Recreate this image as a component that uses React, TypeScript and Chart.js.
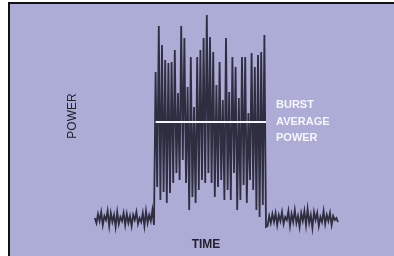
import React, { useEffect, useRef } from "react";
import { Chart, registerables } from "chart.js";

Chart.register(...registerables);

// Power samples (arbitrary units), one per time step
const NOISE_BEFORE = [38, 33, 42, 35, 44, 31, 40, 36, 45, 30, 43, 34, 41, 29, 44, 32, 39, 35, 43, 31, 42, 33, 40, 30, 41, 36, 44, 32, 38, 34, 43, 30, 45, 33, 41, 35, 46, 31];
const BURST_PEAKS = [184, 230, 211, 196, 193, 194, 206, 163, 230, 218, 169, 199, 149, 199, 206, 218, 241, 219, 204, 171, 194, 156, 218, 164, 199, 189, 158, 199, 199, 143, 203, 189, 201, 204, 221];
const BURST_TROUGHS = [69, 56, 64, 53, 63, 73, 83, 76, 96, 73, 46, 59, 53, 66, 76, 73, 83, 73, 59, 69, 76, 56, 66, 56, 83, 46, 56, 71, 53, 76, 66, 46, 39, 51];
const BURST_TAIL = [29];
const NOISE_AFTER = [30, 40, 33, 42, 34, 43, 31, 41, 35, 44, 32, 39, 36, 45, 30, 42, 34, 46, 33, 40, 29, 43, 35, 45, 31, 47, 33, 41, 28, 44, 36, 43, 30, 39, 34, 45, 32, 41, 35, 43, 31, 40, 36, 38, 34];
const BURST_AVERAGE = 134;

const TIME_RANGE = [-53, 187];
const POWER_RANGE = [0, 252];

const Y_TITLE = "POWER";
const X_TITLE = "TIME";
const ANNOTATION = ["BURST", "AVERAGE", "POWER"];

const FONT = "'Liberation Sans', Arial, sans-serif";

export default function App() {
  const ref = useRef<HTMLCanvasElement>(null);

  useEffect(() => {
    if (!ref.current) return;
    const burst: number[] = [];
    BURST_PEAKS.forEach((p, i) => {
      burst.push(p);
      if (i < BURST_TROUGHS.length) burst.push(BURST_TROUGHS[i]);
    });
    const power = [...NOISE_BEFORE, ...burst, ...BURST_TAIL, ...NOISE_AFTER];
    const signal = power.map((y, x) => ({ x, y }));
    const burstStart = NOISE_BEFORE.length;
    const burstEnd = burstStart + burst.length;
    const average = [
      { x: burstStart, y: BURST_AVERAGE },
      { x: burstEnd, y: BURST_AVERAGE },
    ];

    const labelsPlugin = {
      id: "labels",
      afterDraw(chart: any) {
        const ctx = chart.ctx as CanvasRenderingContext2D;
        ctx.save();
        ctx.fillStyle = "#23232e";
        ctx.font = `12px ${FONT}`;
        ctx.textAlign = "center";
        ctx.textBaseline = "middle";
        ctx.translate(63, 112);
        ctx.rotate(-Math.PI / 2);
        ctx.fillText(Y_TITLE, 0, 0);
        ctx.restore();

        ctx.save();
        ctx.fillStyle = "#23232e";
        ctx.font = `bold 12px ${FONT}`;
        ctx.textAlign = "center";
        ctx.textBaseline = "middle";
        ctx.fillText(X_TITLE, 196, 241);
        ctx.restore();

        ctx.save();
        ctx.fillStyle = "#f6f6ff";
        ctx.font = `bold 11px ${FONT}`;
        ctx.textAlign = "left";
        ctx.textBaseline = "middle";
        ANNOTATION.forEach((t, i) => ctx.fillText(t, 266, 101 + i * 16.5));
        ctx.restore();
      },
    };

    const chart = new Chart(ref.current, {
      type: "line",
      data: {
        datasets: [
          {
            data: average,
            borderColor: "#f4f4ff",
            borderWidth: 2,
            pointRadius: 0,
            order: 0,
          },
          {
            data: signal,
            borderColor: "#2e2e40",
            borderWidth: 1.8,
            pointRadius: 0,
            tension: 0,
            order: 1,
          },
        ],
      },
      options: {
        animation: false,
        responsive: false,
        devicePixelRatio: 1,
        layout: { padding: 0 },
        parsing: false as any,
        plugins: { legend: { display: false }, tooltip: { enabled: false } },
        scales: {
          x: { type: "linear", min: TIME_RANGE[0], max: TIME_RANGE[1], display: false },
          y: { type: "linear", min: POWER_RANGE[0], max: POWER_RANGE[1], display: false },
        },
      },
      plugins: [labelsPlugin],
    });
    return () => chart.destroy();
  }, []);

  return (
    <div style={{ position: "fixed", left: 0, top: 0, width: 394, height: 256, background: "#ffffff", overflow: "hidden" }}>
      <div
        style={{
          position: "absolute",
          left: 8,
          top: 2,
          width: 386,
          height: 254,
          boxSizing: "border-box",
          background: "#acacd6",
          borderLeft: "2px solid #111",
          borderTop: "2px solid #111",
        }}
      >
        <canvas ref={ref} width={384} height={252} style={{ display: "block", width: 384, height: 252 }} />
      </div>
    </div>
  );
}
